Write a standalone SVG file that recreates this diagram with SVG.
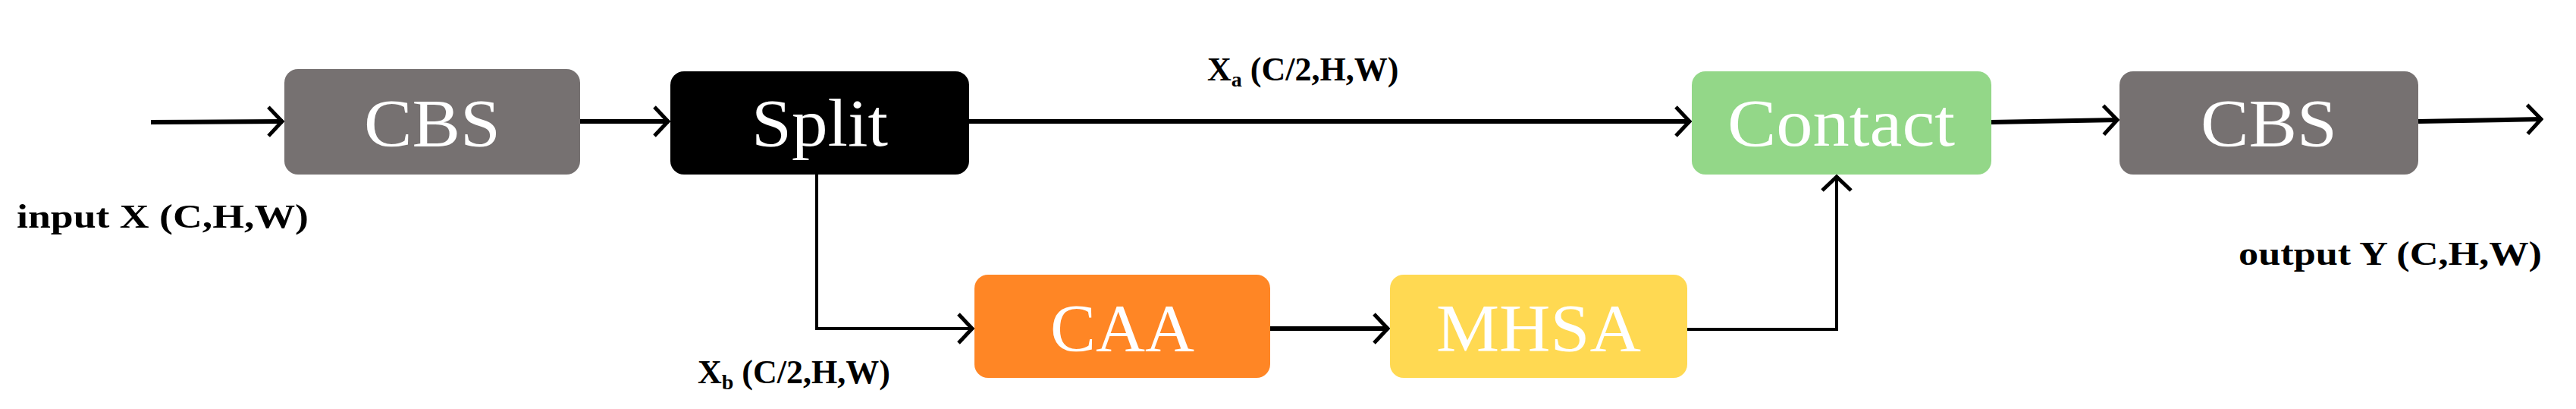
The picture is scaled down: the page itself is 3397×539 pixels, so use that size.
<svg xmlns="http://www.w3.org/2000/svg" width="3397" height="539" viewBox="0 0 3397 539">
<style>
.n{font-family:"Liberation Serif",serif;font-size:88px;fill:#fff;text-anchor:middle}
.l{font-family:"Liberation Serif",serif;font-size:44px;font-weight:bold;fill:#000}
.c{fill:none;stroke:#000;stroke-width:6}
.t{fill:none;stroke:#000;stroke-width:4}
</style>
<defs>
<marker id="h" viewBox="0 0 24 44" refX="22" refY="22" markerWidth="24" markerHeight="44" orient="auto" markerUnits="userSpaceOnUse">
<path d="M3,3 L21,22 L3,41" fill="none" stroke="#000" stroke-width="5"/>
</marker>
</defs>
<rect width="3397" height="539" fill="#fff"/>
<g id="connectors">
<line class="c" x1="199" y1="161" x2="373" y2="160" marker-end="url(#h)"/>
<line class="c" x1="765" y1="160" x2="882" y2="160" marker-end="url(#h)"/>
<line class="c" x1="1278" y1="160" x2="2229" y2="160" marker-end="url(#h)"/>
<line class="c" x1="2626" y1="161" x2="2793" y2="158" marker-end="url(#h)"/>
<line class="c" x1="3189" y1="160" x2="3352" y2="157" marker-end="url(#h)"/>
<polyline class="t" points="1077,230 1077,433 1283,433" marker-end="url(#h)"/>
<line class="c" x1="1675" y1="433" x2="1831" y2="433" marker-end="url(#h)"/>
<polyline class="t" points="2225,434 2422,434 2422,232" marker-end="url(#h)"/>
</g>
<g id="cbs1"><rect x="375" y="91" width="390" height="139" rx="18" fill="#767171"/><text class="n" x="570" y="192" textLength="180" lengthAdjust="spacingAndGlyphs">CBS</text></g>
<g id="split"><rect x="884" y="94" width="394" height="136" rx="18" fill="#000"/><text class="n" x="1081" y="192" textLength="180" lengthAdjust="spacingAndGlyphs">Split</text></g>
<g id="contact"><rect x="2231" y="94" width="395" height="136" rx="18" fill="#93D788"/><text class="n" x="2428" y="192" textLength="300" lengthAdjust="spacingAndGlyphs">Contact</text></g>
<g id="cbs2"><rect x="2795" y="94" width="394" height="136" rx="18" fill="#767171"/><text class="n" x="2992" y="192" textLength="180" lengthAdjust="spacingAndGlyphs">CBS</text></g>
<g id="caa"><rect x="1285" y="362" width="390" height="136" rx="18" fill="#FF8625"/><text class="n" x="1480" y="462" textLength="190" lengthAdjust="spacingAndGlyphs">CAA</text></g>
<g id="mhsa"><rect x="1833" y="362" width="392" height="136" rx="18" fill="#FFD952"/><text class="n" x="2029" y="462" textLength="270" lengthAdjust="spacingAndGlyphs">MHSA</text></g>
<g id="labels">
<text class="l" x="22" y="300" textLength="385" lengthAdjust="spacingAndGlyphs">input X (C,H,W)</text>
<text class="l" x="1592" y="106">X<tspan font-size="28" dy="8">a</tspan><tspan dy="-8"> (C/2,H,W)</tspan></text>
<text class="l" x="920" y="505">X<tspan font-size="28" dy="8">b</tspan><tspan dy="-8"> (C/2,H,W)</tspan></text>
<text class="l" x="2952" y="349" textLength="400" lengthAdjust="spacingAndGlyphs">output Y (C,H,W)</text>
</g>
</svg>
